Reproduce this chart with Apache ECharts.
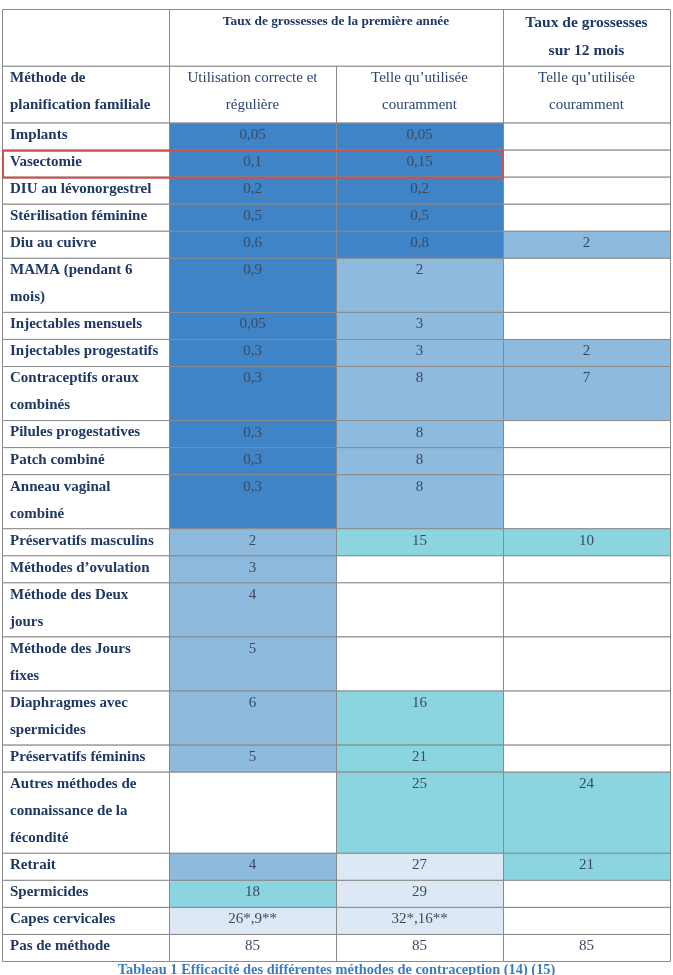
<!DOCTYPE html>
<html>
<head>
<meta charset="utf-8">
<script src="https://cdn.jsdelivr.net/npm/echarts@6/dist/echarts.min.js"></script>
<style>
html,body{margin:0;padding:0;background:#fff;}
#chart{width:673px;height:975px;}
</style>
</head>
<body>
<div id="chart"></div>
<script>
// ---- data ----
const methods = ['Implants','Vasectomie','DIU au lévonorgestrel','Stérilisation féminine','Diu au cuivre','MAMA (pendant 6\nmois)','Injectables mensuels','Injectables progestatifs','Contraceptifs oraux\ncombinés','Pilules progestatives','Patch combiné','Anneau vaginal\ncombiné','Préservatifs masculins','Méthodes d’ovulation','Méthode des Deux\njours','Méthode des Jours\nfixes','Diaphragmes avec\nspermicides','Préservatifs féminins','Autres méthodes de\nconnaissance de la\nfécondité','Retrait','Spermicides','Capes cervicales','Pas de méthode'];
const correctUse = ['0,05','0,1','0,2','0,5','0,6','0,9','0,05','0,3','0,3','0,3','0,3','0,3','2','3','4','5','6','5','','4','18','26*,9**','85'];
const typicalUse = ['0,05','0,15','0,2','0,5','0,8','2','3','3','8','8','8','8','15','','','','16','21','25','27','29','32*,16**','85'];
const typical12m = ['','','','','2','','','2','7','','','','10','','','','','','24','21','','','85'];
const headerTop = ['', 'Taux de grossesses de la première année', 'Taux de grossesses\nsur 12 mois'];
const headerSub = ['Méthode de\nplanification familiale', 'Utilisation correcte et\nrégulière', 'Telle qu’utilisée\ncouramment', 'Telle qu’utilisée\ncouramment'];
const highlighted = ['Vasectomie'];
const caption = 'Tableau 1 Efficacité des différentes méthodes de contraception (14) (15)';

// ---- styling helpers ----
const HEADER_UNITS = 2.1;
function fillFor(s) {
  if (s === '') return '#ffffff';
  const v = parseFloat(s.replace(',', '.'));
  if (v < 1) return '#3F84C6';
  if (v < 10) return '#8DBADD';
  if (v < 26) return '#8AD5E0';
  if (v < 50) return '#DCE8F4';
  return '#ffffff';
}

// ---- build cells ----
const cells = [];
let y = 0;
cells.push({x0:0,x1:1,y0:y,y1:y+HEADER_UNITS,text:headerTop[0],kind:'h1',fill:'#fff'});
cells.push({x0:1,x1:3,y0:y,y1:y+HEADER_UNITS,text:headerTop[1],kind:'h1',fill:'#fff'});
cells.push({x0:3,x1:4,y0:y,y1:y+HEADER_UNITS,text:headerTop[2],kind:'h1big',fill:'#fff'});
y += HEADER_UNITS;
headerSub.forEach((t,i)=>cells.push({x0:i,x1:i+1,y0:y,y1:y+HEADER_UNITS,text:t,kind:i===0?'label':'h2',fill:'#fff'}));
y += HEADER_UNITS;
const hl = [];
methods.forEach((m,r)=>{
  const n = m.split('\n').length;
  cells.push({x0:0,x1:1,y0:y,y1:y+n,text:m,kind:'label',fill:'#fff'});
  [correctUse[r],typicalUse[r],typical12m[r]].forEach((v,c)=>{
    cells.push({x0:c+1,x1:c+2,y0:y,y1:y+n,text:v,kind:'value',fill:fillFor(v)});
  });
  if (highlighted.indexOf(m) >= 0) hl.push({x0:0,x1:3,y0:y,y1:y+n,text:'',kind:'hl',fill:'none'});
  y += n;
});
const totalUnits = y;
hl.forEach(h=>cells.push(h));

const serif = '"Liberation Serif","Times New Roman",serif';

function renderItem(params, api) {
  const c = cells[params.dataIndex];
  const p0 = api.coord([c.x0, c.y0]);
  const p1 = api.coord([c.x1, c.y1]);
  const x = p0[0], yy = p0[1], w = p1[0]-p0[0], h = p1[1]-p0[1];
  if (c.kind === 'hl') {
    return {type:'rect', shape:{x:x+1,y:yy+1,width:w-1,height:h}, style:{fill:null,stroke:'#D0504C',lineWidth:2}, z2:10};
  }
  const children = [{type:'rect', shape:{x:x+0.5,y:yy+0.5,width:w,height:h}, style:{fill:c.fill,stroke:'#8a8a8a',lineWidth:1}}];
  if (c.text) {
    let st;
    if (c.kind === 'label') st = {x:x+8, y:yy-1, align:'left', font:'bold 15px '+serif, fill:'#1F3864', lineHeight:27};
    else if (c.kind === 'h1') st = {x:x+w/2, y:yy-0.5, align:'center', font:'bold 13.3px '+serif, fill:'#1F3864', lineHeight:27};
    else if (c.kind === 'h1big') st = {x:x+w/2, y:yy-0.5, align:'center', font:'bold 15.5px '+serif, fill:'#1F3864', lineHeight:28};
    else if (c.kind === 'h2') st = {x:x+w/2, y:yy-1, align:'center', font:'15px '+serif, fill:'#2B4570', lineHeight:27};
    else st = {x:x+w/2, y:yy-1, align:'center', font:'15px '+serif, fill:'#3C4A60', lineHeight:27};
    st.text = c.text;
    st.verticalAlign = 'top';
    children.push({type:'text', style:st, z2:5});
  }
  return {type:'group', children:children};
}

const chart = echarts.init(document.getElementById('chart'), null, {renderer:'canvas'});
chart.setOption({
  animation:false,
  backgroundColor:'#ffffff',
  title:{
    text:caption, left:'center', top:958,
    textStyle:{fontFamily:serif, fontWeight:'bold', fontSize:14.4, color:'#3B7CC0'}
  },
  grid:{left:2, right:3, top:9, bottom:14},
  xAxis:{type:'value', min:0, max:4, show:false},
  yAxis:{type:'value', min:0, max:totalUnits, inverse:true, show:false},
  series:[{
    type:'custom',
    renderItem:renderItem,
    clip:false,
    data:cells.map(c=>[c.x0,c.x1,c.y0,c.y1])
  }]
});
</script>
</body>
</html>
